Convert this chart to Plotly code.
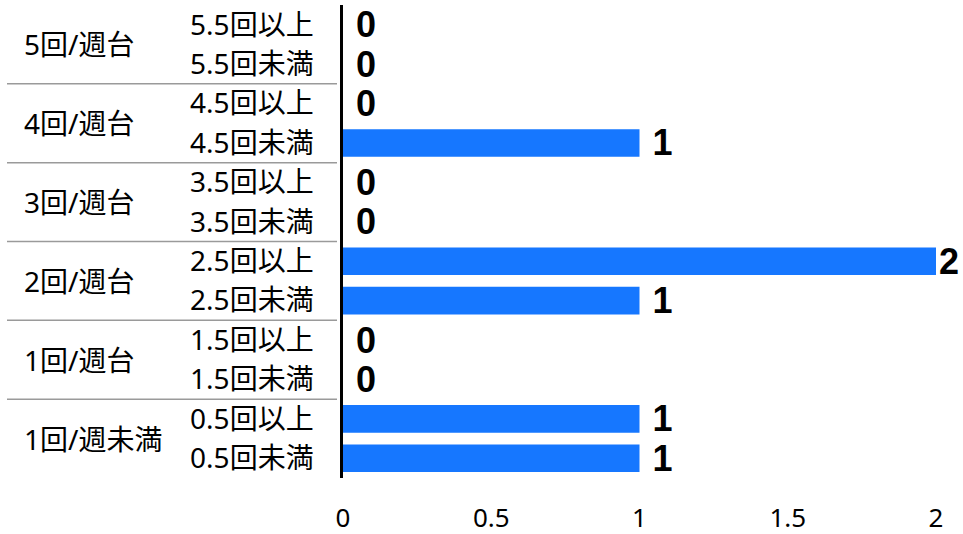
import plotly.graph_objects as go

# Weekly frequency groups (bottom to top) and their sub-bands
groups = ["1回/週未満", "1回/週未満", "1回/週台", "1回/週台", "2回/週台", "2回/週台",
          "3回/週台", "3回/週台", "4回/週台", "4回/週台", "5回/週台", "5回/週台"]
bands = ["0.5回未満", "0.5回以上", "1.5回未満", "1.5回以上", "2.5回未満", "2.5回以上",
         "3.5回未満", "3.5回以上", "4.5回未満", "4.5回以上", "5.5回未満", "5.5回以上"]
counts = [1, 1, 0, 0, 1, 2, 0, 0, 1, 0, 0, 0]

x_ticks = [0, 0.5, 1, 1.5, 2]
x_tick_text = ["0", "0.5", "1", "1.5", "2"]

label_font = "Noto Sans, Noto Sans CJK JP, sans-serif"
value_font = "Liberation Sans, Arial, sans-serif"

W, H = 963, 534
M_L, M_R, M_T, M_B = 343, 27, 5, 56
plot_w = W - M_L - M_R

# value labels sit a little right of the bar end; the longest one hugs it so it stays on the canvas
top = max(counts)
labels = [("" if c == top else "\u00a0") + str(c) for c in counts]

fig = go.Figure(
    go.Bar(
        x=counts,
        y=bands,
        orientation="h",
        marker=dict(color="#1677ff", line=dict(width=0)),
        text=labels,
        textposition="outside",
        constraintext="none",
        textfont=dict(family=value_font, size=36, color="#000000", weight="bold"),
        cliponaxis=False,
        hoverinfo="skip",
    )
)

# group labels and divider lines between groups, positioned from the group list
spans = []
start = 0
for i in range(1, len(groups) + 1):
    if i == len(groups) or groups[i] != groups[start]:
        spans.append((groups[start], start, i - 1))
        start = i

for name, lo, hi in spans:
    fig.add_annotation(
        x=(22 - M_L) / plot_w, xref="paper", xanchor="left",
        y=(lo + hi) / 2, yref="y", yanchor="middle",
        text=name, showarrow=False,
        font=dict(family=label_font, size=28, color="#000000"),
    )
for name, lo, hi in spans[:-1]:
    fig.add_shape(
        type="line", xref="paper", yref="y",
        x0=(7 - M_L) / plot_w, x1=(337 - M_L) / plot_w,
        y0=hi + 0.5, y1=hi + 0.5,
        line=dict(color="#9a9a9a", width=1.5),
    )

fig.update_layout(
    width=W,
    height=H,
    margin=dict(l=M_L, r=M_R, t=M_T, b=M_B),
    paper_bgcolor="#ffffff",
    plot_bgcolor="#ffffff",
    bargap=0.3,
    showlegend=False,
    font=dict(family=label_font, size=26, color="#000000"),
    xaxis=dict(
        range=[0, 2],
        tickvals=x_ticks,
        ticktext=x_tick_text,
        showgrid=False,
        zeroline=False,
        showline=False,
        ticks="",
        tickfont=dict(family=label_font, size=26),
        ticklabelstandoff=22,
        automargin=False,
        fixedrange=True,
    ),
    yaxis=dict(
        type="category",
        categoryorder="array",
        categoryarray=bands,
        range=[-0.5, len(bands) - 0.5],
        showgrid=False,
        zeroline=False,
        showline=True,
        linecolor="#000000",
        linewidth=2.5,
        ticks="",
        tickfont=dict(family=label_font, size=28),
        ticklabelstandoff=21,
        automargin=False,
        fixedrange=True,
    ),
)

fig.write_html("out.html")
